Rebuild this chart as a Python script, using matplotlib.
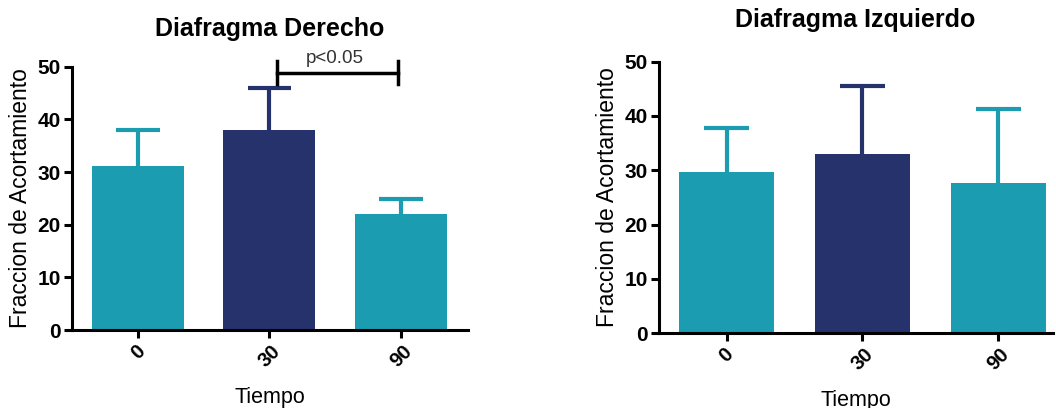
import matplotlib
matplotlib.use("Agg")
import matplotlib.pyplot as plt
import numpy as np

plt.rcParams['font.family'] = ['Liberation Sans', 'DejaVu Sans']

categories = ["0", "30", "90"]
der_means = [31.2, 38.0, 22.1]
der_err = [6.8, 7.9, 2.8]
izq_means = [29.7, 33.0, 27.6]
izq_err = [8.0, 12.6, 13.6]
colors = ["#1c9cb1", "#26326c", "#1c9cb1"]
titles = ["Diafragma Derecho", "Diafragma Izquierdo"]
yticks = [0, 10, 20, 30, 40, 50]
sig_text = "p<0.05"

fig = plt.figure(figsize=(10.56, 4.08), dpi=100)
ax1 = fig.add_axes([0.0682, 0.191, 0.375, 0.6456])
ax2 = fig.add_axes([0.6238, 0.183, 0.373, 0.666])

def draw(ax, means, errs, title, xmax, title_pad):
    x = np.arange(len(categories))
    ax.bar(x, means, width=0.70, color=colors, zorder=2)
    tops = np.array(means) + np.array(errs)
    ax.vlines(x, means, tops, colors=colors, lw=3, zorder=1)
    ax.hlines(tops, x - 0.165, x + 0.165, colors=colors, lw=3, zorder=1)
    ax.set_xlim(-0.5, xmax)
    ax.set_ylim(0, 50)
    ax.set_yticks(yticks)
    ax.set_xticks(x)
    ax.set_xticklabels(categories, rotation=45, ha='center', fontsize=14.5, fontweight='bold')
    for lab in ax.get_yticklabels():
        lab.set_fontsize(15)
        lab.set_fontweight('bold')
    for s in ['top', 'right']:
        ax.spines[s].set_visible(False)
    for s in ['left', 'bottom']:
        ax.spines[s].set_linewidth(2.2)
    ax.tick_params(axis='both', width=2.2, length=6, pad=2)
    ax.set_ylabel("Fraccion de Acortamiento", fontsize=16.5, labelpad=4)
    ax.set_xlabel("Tiempo", fontsize=15.5, labelpad=12)
    ax.set_title(title, fontsize=18, fontweight='bold', pad=title_pad)

draw(ax1, der_means, der_err, titles[0], 2.51, 22)
draw(ax2, izq_means, izq_err, titles[1], 2.4, 25)

# significance bracket
ax1.plot([1.057, 1.98], [48.8, 48.8], color='black', lw=2.5, clip_on=False)
ax1.plot([1.057, 1.057], [46.7, 51.0], color='black', lw=2.5, clip_on=False)
ax1.plot([1.98, 1.98], [46.7, 51.0], color='black', lw=2.5, clip_on=False)
ax1.text(1.5, 49.9, sig_text, ha='center', va='bottom', fontsize=13.5, color='#333333')

fig.savefig("out.png", dpi=100)
